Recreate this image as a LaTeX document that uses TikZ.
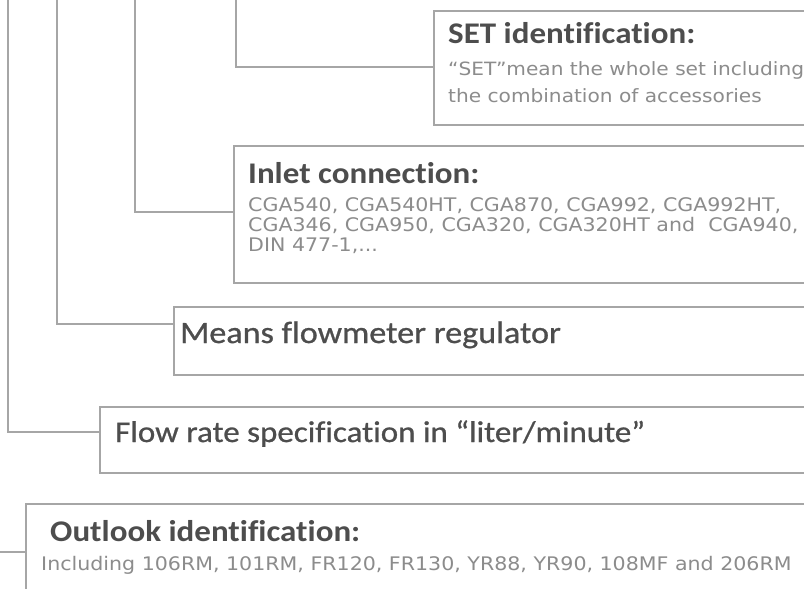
\documentclass[tikz,border=0pt]{standalone}
\usepackage{fontspec}
\setmainfont[FakeStretch=1.1]{DejaVu Sans}
\newfontfamily\headfont[Ligatures=NoCommon,FakeStretch=1.1]{Carlito}
\newfontfamily\headmedium[Ligatures=NoCommon,FakeStretch=1.1,FakeBold=0.8]{Carlito}
\definecolor{linegray}{HTML}{A6A6A6}
\definecolor{headgray}{HTML}{4D4D4D}
\definecolor{bodygray}{HTML}{8C8C8C}
\begin{document}
\begin{tikzpicture}[x=1pt,y=-1pt,
  box/.style={draw=linegray, line width=1.5pt, fill=white, rectangle, inner sep=0pt, anchor=north west},
  conn/.style={draw=linegray, line width=1.5pt},
  headb/.style={anchor=base west, inner sep=0pt, text=headgray, font=\headfont\bfseries\fontsize{30}{30}\selectfont},
  headr/.style={anchor=base west, inner sep=0pt, text=headgray, font=\headmedium\fontsize{#1}{#1}\selectfont},
  body/.style={anchor=base west, inner sep=0pt, text=bodygray, font=\fontsize{#1}{20}\selectfont},
  body/.default=18.7]
\useasboundingbox (0,0) rectangle (804,589);
\clip (0,0) rectangle (804,589);
% boxes
\node[box, minimum width=400pt, minimum height=114pt] (set) at (433,10) {};
\node[box, minimum width=600pt, minimum height=137pt] (inlet) at (233,145) {};
\node[box, minimum width=660pt, minimum height=68pt] (means) at (173,306) {};
\node[box, minimum width=740pt, minimum height=66pt] (flow) at (99,406) {};
\node[box, minimum width=800pt, minimum height=120pt] (outlook) at (25,503) {};
% connector ends
\coordinate (topA) at (8,-2);
\coordinate (topB) at (57,-2);
\coordinate (topC) at (135,-2);
\coordinate (topD) at (236,-2);
\coordinate (inD) at (433,67);
\coordinate (inC) at (233,212);
\coordinate (inB) at (173,324);
\coordinate (inA) at (99,432);
\coordinate (inO) at (25,552);
\coordinate (leftO) at (-2,552);
\draw[conn] (topD) |- (inD);
\draw[conn] (topC) |- (inC);
\draw[conn] (topB) |- (inB);
\draw[conn] (topA) |- (inA);
\draw[conn] (leftO) -- (inO);
% texts
\node[headb] (seth) at (448,43) {SET identification:};
\node[body=18.3] (setb1) at (448,75) {“SET”mean the whole set including};
\node[body=18.3] (setb2) at (448,102) {the combination of accessories};
\node[headb] (inleth) at (248,183) {Inlet connection:};
\node[body] (inletb1) at (248,211) {CGA540, CGA540HT, CGA870, CGA992, CGA992HT,};
\node[body] (inletb2) at (248,231) {CGA346, CGA950, CGA320, CGA320HT and\ \ CGA940,};
\node[body] (inletb3) at (248,251) {DIN 477-1,...};
\node[headr=31] (meansh) at (180,343) {Means flowmeter regulator};
\node[headr=30] (flowh) at (115,442) {Flow rate specification in “liter/minute”};
\node[headb] (outh) at (50,541) {Outlook identification:};
\node[body] (outb) at (41,570) {Including 106RM, 101RM, FR120, FR130, YR88, YR90, 108MF and 206RM};
\end{tikzpicture}
\end{document}
